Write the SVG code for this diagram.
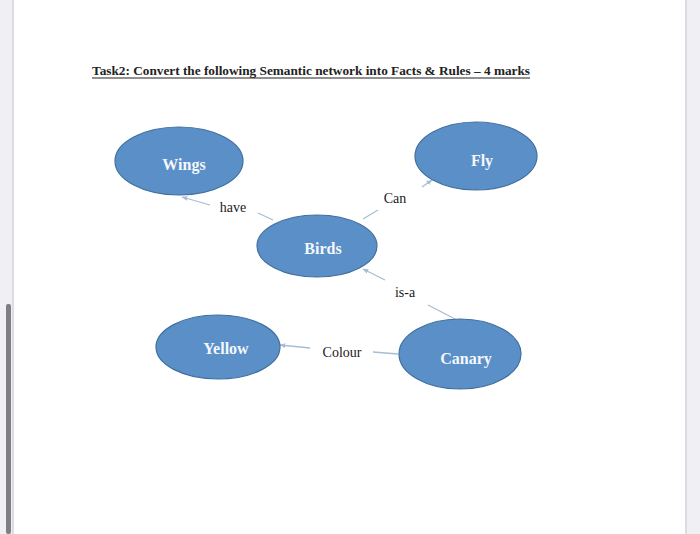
<svg xmlns="http://www.w3.org/2000/svg" width="700" height="534" viewBox="0 0 700 534">
<style>
.node ellipse{fill:#5a8fc7;stroke:#41709f;stroke-width:1.2}
.node text{font-family:"Liberation Serif",serif;font-weight:bold;font-size:16px;fill:#f4f7fb;text-anchor:middle;dominant-baseline:central}
.edge line{stroke:#a7bdd3;stroke-width:1.3}
.lbl{font-family:"Liberation Serif",serif;font-size:14px;fill:#1a1a1a;text-anchor:middle;dominant-baseline:central}
</style>
<defs>
<marker id="arr" viewBox="0 0 10 10" refX="9" refY="5" markerWidth="6" markerHeight="6" orient="auto" markerUnits="userSpaceOnUse">
<path d="M0,1 L10,5 L0,9 Z" fill="#a7bdd3"/>
</marker>
</defs>
<rect x="0" y="0" width="700" height="534" fill="#ffffff"/>
<rect x="0" y="0" width="13" height="534" fill="#efeff4"/>
<rect x="12" y="0" width="2" height="534" fill="#dcdce2"/>
<rect x="686" y="0" width="14" height="534" fill="#efeff4"/>
<rect x="685" y="0" width="2" height="534" fill="#dcdce2"/>
<rect x="6" y="304" width="5" height="230" rx="2" fill="#7e7e84"/>
<g id="title">
<text x="92" y="75" font-family="Liberation Serif,serif" font-weight="bold" font-size="13.5" fill="#222" textLength="438" lengthAdjust="spacingAndGlyphs">Task2: Convert the following Semantic network into Facts &amp; Rules – 4 marks</text>
<line x1="92" y1="78" x2="530" y2="78" stroke="#222" stroke-width="1"/>
</g>
<g id="connectors" class="edge">
<line x1="273" y1="220" x2="258" y2="213"/>
<line x1="210" y1="205" x2="182" y2="197" marker-end="url(#arr)"/>
<line x1="363" y1="219" x2="378" y2="210"/>
<line x1="422" y1="187" x2="432" y2="180" marker-end="url(#arr)"/>
<line x1="457" y1="320" x2="428" y2="305"/>
<line x1="385" y1="280" x2="363" y2="269" marker-end="url(#arr)"/>
<line x1="398" y1="354" x2="373" y2="352"/>
<line x1="310" y1="348" x2="280" y2="345" marker-end="url(#arr)"/>
<text class="lbl" x="233" y="207">have</text>
<text class="lbl" x="395" y="198">Can</text>
<text class="lbl" x="405" y="292">is-a</text>
<text class="lbl" x="342" y="352">Colour</text>
</g>
<g id="wings" class="node"><ellipse cx="179" cy="161" rx="64" ry="34"/><text x="184" y="164">Wings</text></g>
<g id="fly" class="node"><ellipse cx="476" cy="156" rx="61" ry="34"/><text x="482" y="160">Fly</text></g>
<g id="birds" class="node"><ellipse cx="317" cy="246" rx="60" ry="31"/><text x="323" y="248">Birds</text></g>
<g id="yellow" class="node"><ellipse cx="218" cy="347" rx="62" ry="32"/><text x="226" y="348">Yellow</text></g>
<g id="canary" class="node"><ellipse cx="460" cy="354" rx="61" ry="35"/><text x="466" y="358">Canary</text></g>
</svg>
